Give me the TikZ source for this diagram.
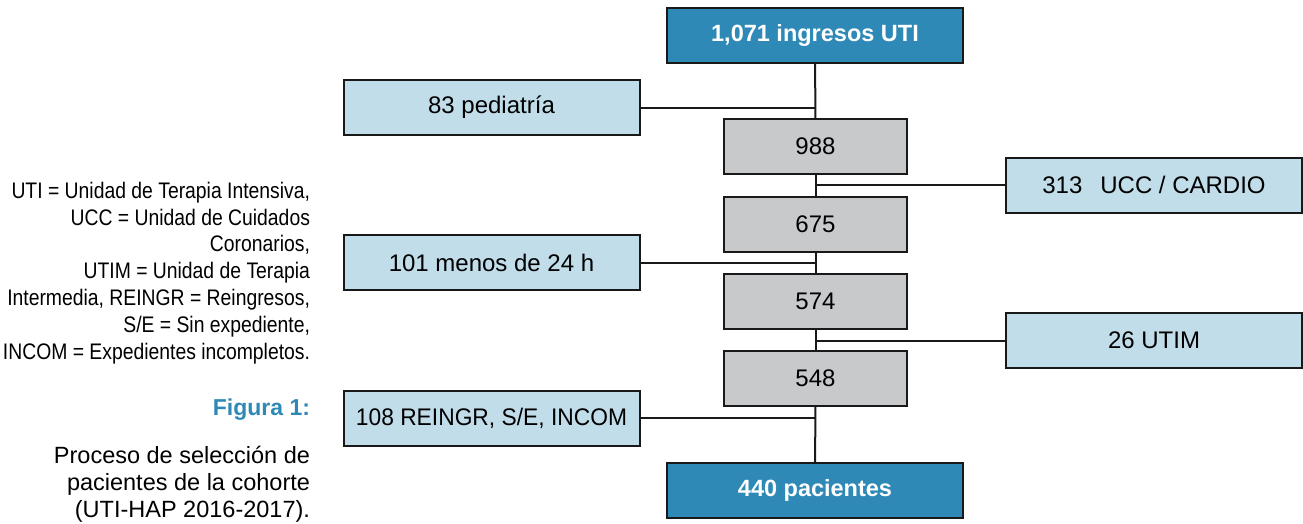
\documentclass[tikz,border=0pt]{standalone}
\usepackage{fontspec}
\setmainfont{Liberation Sans}
\newfontfamily\narrowfont[FakeStretch=0.86]{Liberation Sans}
\newfontfamily\condfont[FakeStretch=0.95]{Liberation Sans}
\usepackage{tikz}
\usetikzlibrary{calc}
\definecolor{uticyan}{RGB}{46,137,182}
\definecolor{utilight}{RGB}{193,221,234}
\definecolor{utigray}{RGB}{200,201,203}

\begin{document}
\begin{tikzpicture}[x=1pt,y=-1pt,
    every node/.style={inner sep=0pt, outer sep=0pt},
    box/.style={draw=black!90, line width=2pt, minimum height=55pt},
    endbox/.style={box, fill=uticyan, minimum width=296pt, text=white, font=\fontsize{23.5}{28}\selectfont\bfseries},
    sidebox/.style={box, fill=utilight, minimum width=296pt, font=\fontsize{24}{28}\selectfont},
    countbox/.style={box, fill=utigray, minimum width=183pt, font=\fontsize{24}{28}\selectfont},
    link/.style={line width=2pt, black!90}]
    \useasboundingbox (0,0) rectangle (1303,523);

    % main column
    \node[endbox] (uti) at (815,35.5) {1,071 ingresos UTI};
    \node[countbox] (n988) at (815.5,146) {988};
    \node[countbox] (n675) at (815.5,224) {675};
    \node[countbox] (n574) at (815.5,301) {574};
    \node[countbox] (n548) at (815.5,378.5) {548};
    \node[endbox] (pac) at (815,490.5) {440 pacientes};

    % exclusions
    \node[sidebox] (ped) at (491.5,107.5) {83 pediatría};
    \node[sidebox] (ucc) at (1154,185) {313\hspace{0.75em}UCC / CARDIO};
    \node[sidebox] (h24) at (491.5,262.5) {101 menos de 24 h};
    \node[sidebox] (utim) at (1154,340.5) {26 UTIM};
    \node[sidebox, font=\condfont\fontsize{24}{28}\selectfont] (reing) at (491.5,418) {108 REINGR, S/E, INCOM};

    \draw[link] (uti) -- (n988);
    \draw[link] (n988) -- (n675);
    \draw[link] (n675) -- (n574);
    \draw[link] (n574) -- (n548);
    \draw[link] (n548) -- (pac);
    \draw[link] (ped.east) -- (ped.east -| uti);
    \draw[link] (ucc.west) -- (ucc.west -| uti);
    \draw[link] (h24.east) -- (h24.east -| uti);
    \draw[link] (utim.west) -- (utim.west -| uti);
    \draw[link] (reing.east) -- (reing.east -| uti);

    % legend and caption
    \node[anchor=north east, align=right, font=\narrowfont\fontsize{22.5}{26.8}\selectfont] (abbr) at (310,182)
        {UTI = Unidad de Terapia Intensiva,\\ UCC = Unidad de Cuidados\\ Coronarios,\\ UTIM = Unidad de Terapia\\ Intermedia, REINGR = Reingresos,\\ S/E = Sin expediente,\\ INCOM = Expedientes incompletos.};
    \node[anchor=east, text=uticyan, font=\fontsize{23}{27}\selectfont\bfseries] (fig) at (310,410) {Figura 1:};
    \node[anchor=north east, align=right, font=\fontsize{23.5}{27}\selectfont] (cap) at (310,446)
        {Proceso de selección de\\ pacientes de la cohorte\\ (UTI-HAP 2016-2017).};
\end{tikzpicture}
\end{document}
